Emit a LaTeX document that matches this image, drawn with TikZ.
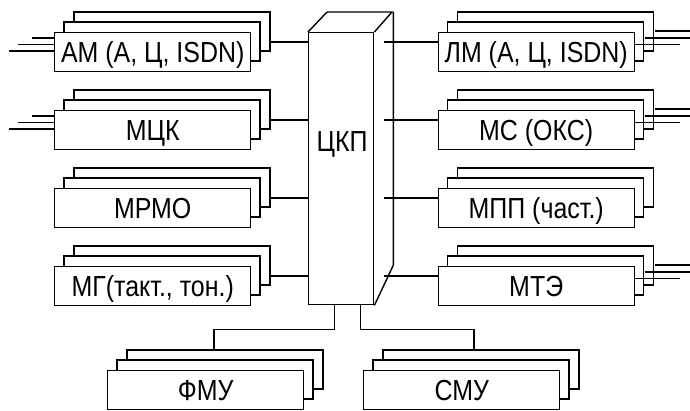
\documentclass[tikz,border=0pt]{standalone}
\usepackage{fontspec}
\setmainfont{Liberation Sans}[FakeStretch=0.86]
\newcommand\modstack[4]{%
 \node[mod] (#1) at (#2,#3) {#4};
 \draw ([xshift=10pt]#1.north west) -- ++(0,-10) -- ++(196,0) -- ++(0,39) -- ++(-10,0);
 \draw ([xshift=20pt,yshift=10pt]#1.north west) -- ++(0,-10) -- ++(196,0) -- ++(0,39) -- ++(-10,0);
 \coordinate (#1-br) at ([xshift=216pt,yshift=-10pt]#1.north west);
 \coordinate (#1-in) at ([yshift=-10pt]#1.north west);
}
\newcommand\inlines[1]{%
 \draw ([yshift=-6pt]#1.north west) -- ++(-22,0);
 \draw ([yshift=-12.5pt]#1.north west) -- ++(-36,0);
 \draw ([yshift=-19pt]#1.north west) -- ++(-45,0);
}
\newcommand\outlines[1]{%
 \draw ([xshift=20pt,yshift=1pt]#1.north east) -- ++(36,0);
 \draw ([xshift=10pt,yshift=-6pt]#1.north east) -- ++(46,0);
 \draw ([yshift=-12.5pt]#1.north east) -- ++(45,0);
}
\begin{document}
\begin{tikzpicture}[x=1pt,y=-1pt,line width=1.4pt,
  lbl/.style={font=\fontsize{29}{31}\selectfont},
  mod/.style={draw, lbl, minimum width=196pt, minimum height=39pt, anchor=north west,
    inner sep=0pt, text height=20pt, text depth=0pt}]
\useasboundingbox (0,0) rectangle (690,411);
% central switching field
\node[draw, minimum width=65pt, minimum height=272pt, anchor=north west, inner sep=0pt] (ckp) at (308,32) {};
\draw (ckp.north west) -- ++(19,-20) -- ++(65,0) -- (ckp.north east);
\draw ([shift={(19pt,20pt)}]ckp.north east) -- ++(0,253) -- (ckp.south east);
\node[lbl, text height=20pt, text depth=0pt, inner sep=0pt] (ckplbl) at (342,142) {ЦКП};
% left modules
\modstack{am}{54}{32}{АМ (А, Ц, ISDN)}
\modstack{mck}{54}{110}{МЦК}
\modstack{mrmo}{54}{188}{МРМО}
\modstack{mg}{54}{266}{МГ(такт., тон.)}
% right modules
\modstack{lm}{437.5}{32}{ЛМ (А, Ц, ISDN)}
\modstack{ms}{437.5}{110}{МС (ОКС)}
\modstack{mpp}{437.5}{188}{МПП (част.)}
\modstack{mte}{437.5}{266}{МТЭ}
% bottom modules
\modstack{fmu}{107}{370}{ФМУ}
\modstack{smu}{363}{370}{СМУ}
% external lines
\inlines{am}
\inlines{mck}
\outlines{lm}
\outlines{ms}
\outlines{mte}
% connections to ЦКП
\foreach \m in {am,mck,mrmo,mg}{\draw (\m-br) -- (ckp.west |- \m-br);}
\foreach \m in {lm,ms,mpp,mte}{\draw ([xshift=10pt]ckp.east |- \m-in) -- (\m-in);}
\coordinate (fmu-tp) at ([xshift=107pt,yshift=20pt]fmu.north west);
\coordinate (smu-tp) at ([xshift=111pt,yshift=20pt]smu.north west);
\draw ([xshift=-6.5pt]ckp.south) -- ++(0,24) -| (fmu-tp);
\draw ([xshift=19.5pt]ckp.south) -- ++(0,24) -| (smu-tp);
\end{tikzpicture}
\end{document}
